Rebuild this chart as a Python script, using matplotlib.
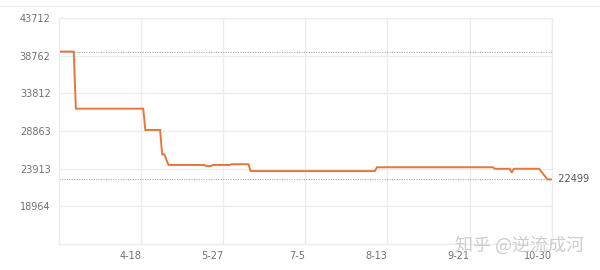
import matplotlib
matplotlib.use("Agg")
import matplotlib.pyplot as plt
import matplotlib.dates as mdates
from matplotlib.lines import Line2D
import pandas as pd

dates = ["2019-03-10", "2019-03-17", "2019-03-18", "2019-04-19", "2019-04-20",
         "2019-04-27", "2019-04-28", "2019-04-29", "2019-05-01", "2019-05-18",
         "2019-05-19", "2019-05-21", "2019-05-22", "2019-05-30", "2019-05-31",
         "2019-06-08", "2019-06-09", "2019-08-07", "2019-08-08", "2019-10-02",
         "2019-10-03", "2019-10-10", "2019-10-11", "2019-10-12", "2019-10-24",
         "2019-10-28", "2019-10-30"]
prices = [39299, 39299, 31799, 31799, 28999,
          28999, 25799, 25799, 24399, 24399,
          24249, 24249, 24399, 24399, 24499,
          24499, 23599, 23599, 24099, 24099,
          23899, 23899, 23399, 23899, 23899,
          22499, 22499]
y_ticks = [14014, 18964, 23913, 28863, 33812, 38762, 43712]
y_labels = ["", "18964", "23913", "28863", "33812", "38762", "43712"]
x_ticks = ["2019-04-18", "2019-05-27", "2019-07-05", "2019-08-13", "2019-09-21", "2019-10-30"]
x_labels = ["4-18", "5-27", "7-5", "8-13", "9-21", "10-30"]

x = pd.to_datetime(dates)
fig = plt.figure(figsize=(6, 2.7), dpi=100)
ax = fig.add_axes([59/600, 1-244/270, (551.7-59)/600, (244-18)/270])

grid_c = "#ececec"
ax.set_ylim(y_ticks[0], y_ticks[-1])
ax.set_xlim(x[0], x[-1])
ax.set_yticks(y_ticks)
ax.set_yticklabels(y_labels)
xt = pd.to_datetime(x_ticks)
ax.set_xticks(xt)
ax.set_xticklabels(x_labels, ha="right")
ax.grid(True, color=grid_c, linewidth=1)
for s in ax.spines.values():
    s.set_color(grid_c)
ax.tick_params(length=0, labelsize=7, colors="#707070")
ax.tick_params(axis="y", pad=6)
ax.tick_params(axis="x", pad=5)

pmax, pmin = max(prices), min(prices)
ax.axhline(pmax, color="#aaaaaa", linestyle=(0, (1, 1.2)), linewidth=0.8)
ax.axhline(pmin, color="#aaaaaa", linestyle=(0, (1, 1.2)), linewidth=0.8)
ax.plot(x, prices, color="#e8763a", linewidth=1.4, solid_joinstyle="miter")
ax.text(1.0, pmin, "  " + str(pmin), transform=ax.get_yaxis_transform(),
        ha="left", va="center", fontsize=7, color="#555555")

fig.add_artist(Line2D([0, 1], [1-6/270, 1-6/270], color="#eeeeee", linewidth=1,
                      transform=fig.transFigure))
fig.text(455/600, 1-245/270, "知乎 @逆流成河", fontsize=13,
         family=["Noto Sans CJK SC", "DejaVu Sans"], color="#c8c8c8",
         ha="left", va="center", alpha=0.9)

fig.savefig("out.png", dpi=100)
